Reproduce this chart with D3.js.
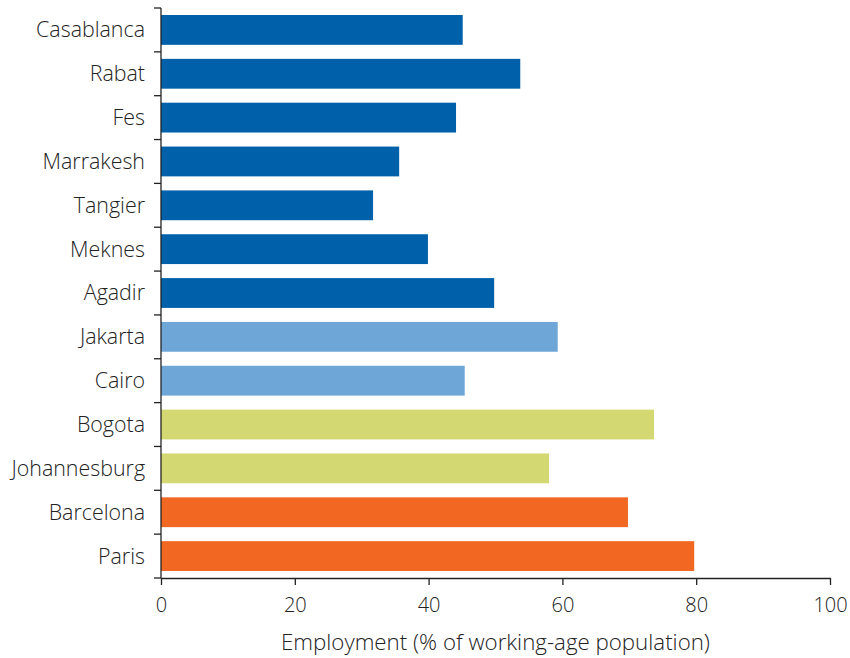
<!DOCTYPE html>
<html><head><meta charset="utf-8">
<script src="https://cdn.jsdelivr.net/npm/d3@7"></script>
<style>
body{margin:0;background:#fff;}
text{font-family:"Open Sans",sans-serif;font-weight:300;}
</style></head>
<body><svg id="c" width="850" height="658"></svg>
<script>
const cities = ["Casablanca","Rabat","Fes","Marrakesh","Tangier","Meknes","Agadir","Jakarta","Cairo","Bogota","Johannesburg","Barcelona","Paris"];
const employment = [45.1,53.7,44.1,35.6,31.7,39.9,49.8,59.3,45.4,73.7,58.0,69.8,79.7];
const groups = ["Morocco","Morocco","Morocco","Morocco","Morocco","Morocco","Morocco","Asia-MENA","Asia-MENA","Emerging","Emerging","Europe","Europe"];
const groupNames = ["Morocco","Asia-MENA","Emerging","Europe"];
const groupColors = ["#0061AA","#6FA6D8","#D3D872","#F26722"];
const xTicks = [0,20,40,60,80,100];
const xTitle = "Employment (% of working-age population)";

const svg = d3.select("#c");
const m = {l:161, r:830, t:8, b:578};
const x = d3.scaleLinear().domain([0,100]).range([m.l, m.r]);
const y = d3.scaleBand().domain(cities).range([m.t, m.b]).paddingInner(0.32).paddingOuter(0.16);
const color = d3.scaleOrdinal().domain(groupNames).range(groupColors);

svg.selectAll("rect.bar").data(cities).join("rect")
  .attr("class","bar")
  .attr("x", x(0))
  .attr("y", d => y(d))
  .attr("width", (d,i) => x(employment[i]) - x(0))
  .attr("height", y.bandwidth())
  .attr("fill", (d,i) => color(groups[i]));

// y axis
const ya = svg.append("g").attr("transform",`translate(${m.l},0)`);
ya.append("line").attr("x1",0).attr("x2",0).attr("y1",m.t).attr("y2",m.b).attr("stroke","#222").attr("stroke-width",1.3);
const step = (m.b - m.t)/cities.length;
ya.selectAll("line.tk").data(d3.range(cities.length+1)).join("line")
  .attr("class","tk").attr("x1",-7).attr("x2",0)
  .attr("y1",i=>m.t+i*step).attr("y2",i=>m.t+i*step)
  .attr("stroke","#222").attr("stroke-width",1.3);
ya.selectAll("text").data(cities).join("text")
  .attr("x",-16).attr("y",d=>y(d)+y.bandwidth()/2)
  .attr("dy","0.35em").attr("text-anchor","end")
  .attr("font-size",21.4).attr("fill","#222").text(d=>d);

// x axis
const xa = svg.append("g").attr("transform",`translate(0,${m.b})`);
xa.call(d3.axisBottom(x).tickValues(xTicks).tickSize(7).tickSizeOuter(0).tickFormat(d3.format("d")));
xa.select(".domain").attr("stroke","#222").attr("stroke-width",1.3);
xa.selectAll(".tick line").attr("stroke","#222").attr("stroke-width",1.3);
xa.selectAll(".tick text").attr("font-size",20).attr("fill","#222").attr("font-family","Open Sans").attr("font-weight",300).attr("y",20);

svg.append("text").attr("x",(m.l+m.r)/2 + 0).attr("y",650)
  .attr("text-anchor","middle").attr("font-size",22.3).attr("fill","#222").text(xTitle);
</script></body></html>
